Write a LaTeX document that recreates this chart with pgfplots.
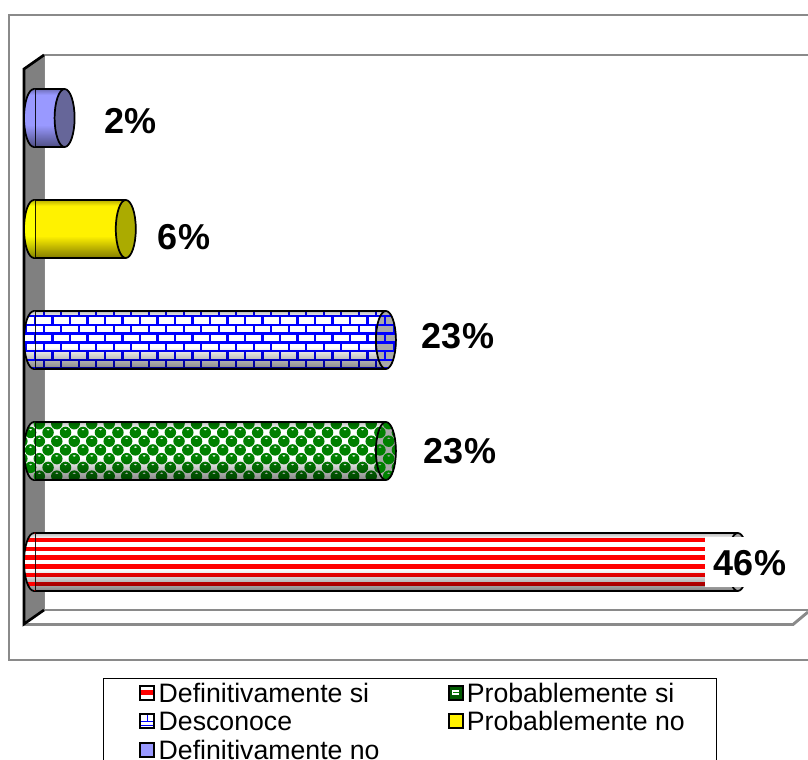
\documentclass[border=0pt]{standalone}
\usepackage{fontspec}
\setmainfont{Liberation Sans}
\usepackage{pgfplots}
\pgfplotsset{compat=1.18}
\usetikzlibrary{patterns,fadings}
\definecolor{framegray}{HTML}{8A8A8A}
\definecolor{wallgray}{HTML}{808080}
\definecolor{gblue}{HTML}{0000FF}
\definecolor{ggreen}{HTML}{008000}
\definecolor{ppl}{HTML}{9999FF}
\definecolor{pplface}{HTML}{666699}
\definecolor{yface}{HTML}{ABAB00}
\definecolor{gface}{HTML}{A8A8A8}

% patterns (1px = 0.75pt)
\pgfdeclarepatternformonly{hstripes}{\pgfqpoint{-1pt}{0pt}}{\pgfqpoint{7.5pt}{6.525pt}}{\pgfqpoint{6.525pt}{6.525pt}}{%
  \pgfpathrectangle{\pgfqpoint{-1pt}{0pt}}{\pgfqpoint{8.5pt}{3.3pt}}\pgfusepath{fill}}
\pgfdeclarepatternformonly{pxbricks}{\pgfqpoint{-1pt}{-1pt}}{\pgfqpoint{14.2pt}{14.1pt}}{\pgfqpoint{13.125pt}{13.05pt}}{%
  \pgfsetlinewidth{1.8pt}%
  \pgfpathmoveto{\pgfqpoint{-1pt}{0pt}}\pgfpathlineto{\pgfqpoint{14.2pt}{0pt}}%
  \pgfpathmoveto{\pgfqpoint{-1pt}{6.525pt}}\pgfpathlineto{\pgfqpoint{14.2pt}{6.525pt}}%
  \pgfpathmoveto{\pgfqpoint{-1pt}{13.05pt}}\pgfpathlineto{\pgfqpoint{14.2pt}{13.05pt}}%
  \pgfpathmoveto{\pgfqpoint{0pt}{0pt}}\pgfpathlineto{\pgfqpoint{0pt}{6.525pt}}%
  \pgfpathmoveto{\pgfqpoint{13.125pt}{0pt}}\pgfpathlineto{\pgfqpoint{13.125pt}{6.525pt}}%
  \pgfpathmoveto{\pgfqpoint{6.5625pt}{6.525pt}}\pgfpathlineto{\pgfqpoint{6.5625pt}{13.05pt}}%
  \pgfusepath{stroke}}
\pgfdeclarepatternformonly{pxspheres}{\pgfqpoint{-2pt}{-2pt}}{\pgfqpoint{15.1pt}{15.1pt}}{\pgfqpoint{13.1pt}{13.1pt}}{%
  \pgfseteorule
  \pgfpathcircle{\pgfqpoint{3.3pt}{3.3pt}}{4.3pt}%
  \pgfpathellipse{\pgfqpoint{3.3pt}{5.4pt}}{\pgfqpoint{1.4pt}{0pt}}{\pgfqpoint{0pt}{0.7pt}}%
  \pgfpathcircle{\pgfqpoint{9.85pt}{9.85pt}}{4.3pt}%
  \pgfpathellipse{\pgfqpoint{9.85pt}{11.95pt}}{\pgfqpoint{1.4pt}{0pt}}{\pgfqpoint{0pt}{0.7pt}}%
  \pgfusepath{fill}}

% a path takes up the stops 25bp (its bottom) to 75bp (its top)
\pgfdeclareverticalshading{barshade}{100bp}{color(0bp)=(pgftransparent!52); color(25bp)=(pgftransparent!52); color(31bp)=(pgftransparent!66); color(37bp)=(pgftransparent!82); color(44bp)=(pgftransparent!100); color(70bp)=(pgftransparent!100); color(75bp)=(pgftransparent!72); color(100bp)=(pgftransparent!72)}
\pgfdeclarefading{barfade}{\pgfuseshading{barshade}}
% the same darkening, opaque, for the rounded left ends
\newcommand{\mkshade}[2]{\pgfdeclareverticalshading{#1}{100bp}{color(0bp)=(#2!52!black); color(25bp)=(#2!52!black); color(31bp)=(#2!66!black); color(37bp)=(#2!82!black); color(44bp)=(#2); color(70bp)=(#2); color(75bp)=(#2!72!black); color(100bp)=(#2!72!black)}}
\mkshade{shwhite}{white}
\mkshade{shyellow}{yellow}
\mkshade{shppl}{ppl}

% end caps: name, face options, base shading of the left end, pattern of the left end
\newcommand{\declcaps}[4]{%
  \pgfdeclareplotmark{capR#1}{%
    \path[#2] (0pt,0pt) ellipse[x radius=7.5pt,y radius=21.75pt];
    \draw[black,line width=1.3pt] (0pt,0pt) ellipse[x radius=7.5pt,y radius=21.75pt];}%
  \pgfdeclareplotmark{capL#1}{%
    \path[shade,shading=#3] (0pt,21.75pt) arc[start angle=90,end angle=270,x radius=7.5pt,y radius=21.75pt] -- (1pt,-21.75pt) -- (1pt,21.75pt) -- cycle;
    \path[#4] (0pt,21.75pt) arc[start angle=90,end angle=270,x radius=7.5pt,y radius=21.75pt] -- (1pt,-21.75pt) -- (1pt,21.75pt) -- cycle;
    \draw[black,line width=1.3pt] (0pt,21.75pt) arc[start angle=90,end angle=270,x radius=7.5pt,y radius=21.75pt];}%
}
\declcaps{red}{fill=gface}{shwhite}{pattern=hstripes,pattern color=red}
\declcaps{green}{fill=gface,postaction={pattern=pxspheres,pattern color=ggreen}}{shwhite}{pattern=pxspheres,pattern color=ggreen}
\declcaps{blue}{fill=gface,postaction={pattern=pxbricks,pattern color=gblue}}{shwhite}{pattern=pxbricks,pattern color=gblue}
\declcaps{yellow}{fill=yface}{shyellow}{}
\declcaps{purple}{fill=pplface}{shppl}{}

\pgfplotsset{
  pxaxis/.style={scale only axis,width=606pt,height=570pt,hide axis,clip=false,
    xmin=0,xmax=808,ymin=0,ymax=760,y dir=reverse},
  oneBar/.style={xbar,bar width=43.5pt,bar shift=0pt},
}

% value, position, cap name, fill options of the bar, legend icon code, legend text
\newcommand{\cyl}[6]{%
  \addplot[oneBar,draw=none,fill=white,forget plot] coordinates {(#1,#2)};
  \addplot[oneBar,draw=none,#4,legend image code/.code={#5}] coordinates {(#1,#2)};
  \addlegendentry{#6}
  \addplot[oneBar,draw=none,fill=black,path fading=barfade,forget plot] coordinates {(#1,#2)};
  \addplot[only marks,mark=capL#3,forget plot] coordinates {(0,#2)};
  \addplot[black,line width=1.3pt,forget plot] coordinates {(0,#2+0.2613) (#1,#2+0.2613)};
  \addplot[black,line width=1.3pt,forget plot] coordinates {(0,#2-0.2613) (#1,#2-0.2613)};
  \addplot[only marks,mark=capR#3,forget plot] coordinates {(#1,#2)};
}
\newcommand{\icon}[1]{\draw[black,line width=1.5pt,fill=white] (0.75pt,-4.6pt) rectangle (11.25pt,5.9pt); #1}

\begin{document}
\begin{tikzpicture}
\useasboundingbox (0,0) rectangle (606pt,570pt);
% frame and walls
\begin{axis}[pxaxis]
  \draw[framegray,line width=2.2pt] (axis cs:808,15) -- (axis cs:9,15) -- (axis cs:9,660) -- (axis cs:808,660);
  \draw[framegray,line width=2.2pt] (axis cs:808,55) -- (axis cs:44,55) -- (axis cs:44,610) -- (axis cs:808,610);
  \draw[framegray,line width=2.2pt] (axis cs:23,624.5) -- (axis cs:793,624.5) -- (axis cs:808,612);
  \path[fill=wallgray] (axis cs:24,69) -- (axis cs:44,55) -- (axis cs:44,610) -- (axis cs:24,624) -- cycle;
  \draw[black,line width=2pt] (axis cs:44,55) -- (axis cs:24,69) -- (axis cs:24,624) -- (axis cs:44,610);
\end{axis}
% bars
\begin{axis}[scale only axis,width=606pt,height=570pt,hide axis,clip=false,
    xmin=-2.2222,xmax=50.5882,ymin=-1.7838,ymax=5.0631,
    legend columns=2,
    legend cell align=left,
    legend style={at={(rel axis cs:0.1722,0.1053)},anchor=north west,draw=none,fill=none,inner sep=0pt,
      font=\fontsize{20}{20}\selectfont,row sep=1.4pt,
      /tikz/every even column/.append style={column sep=48.5pt},
      nodes={inner xsep=2.5pt,inner ysep=2pt}}]
  \cyl{46}{0}{red}{pattern=hstripes,pattern color=red}{\icon{\fill[red] (1.5pt,-1.4pt) rectangle (10.5pt,2.6pt);}}{Definitivamente si}
  \cyl{23}{1}{green}{pattern=pxspheres,pattern color=ggreen}{\icon{\fill[ggreen!70!black] (1.5pt,-3.85pt) rectangle (10.5pt,5.15pt);\fill[white] (3.6pt,-1pt) rectangle (8.4pt,2.8pt);\fill[ggreen] (4.4pt,0.6pt) rectangle (8.4pt,1.3pt);}}{Probablemente si}
  \cyl{23}{2}{blue}{pattern=pxbricks,pattern color=gblue}{\icon{\draw[gblue,line width=1.1pt] (1.5pt,0.6pt) -- (10.5pt,0.6pt) (6pt,0.6pt) -- (6pt,5.15pt) (1.5pt,-2.4pt) -- (10.5pt,-2.4pt);}}{Desconoce}
  \cyl{6}{3}{yellow}{fill=yellow}{\icon{\fill[yellow] (1.5pt,-3.85pt) rectangle (10.5pt,5.15pt);}}{Probablemente no}
  \cyl{2}{4}{purple}{fill=ppl}{\icon{\fill[ppl] (1.5pt,-3.85pt) rectangle (10.5pt,5.15pt);}}{Definitivamente no}
\end{axis}
% labels and legend box
\begin{axis}[pxaxis]
  \draw[black,line width=1.1pt] (axis cs:103.5,770) -- (axis cs:103.5,678.5) -- (axis cs:716.5,678.5) -- (axis cs:716.5,770);
  \path[fill=white] (axis cs:705,537) rectangle (axis cs:795,587);
  \node[font=\bfseries\fontsize{27}{27}\selectfont] at (axis cs:130.5,121) {2\%};
  \node[font=\bfseries\fontsize{27}{27}\selectfont] at (axis cs:184,237) {6\%};
  \node[font=\bfseries\fontsize{27}{27}\selectfont] at (axis cs:458,336) {23\%};
  \node[font=\bfseries\fontsize{27}{27}\selectfont] at (axis cs:460,451) {23\%};
  \node[font=\bfseries\fontsize{27}{27}\selectfont] at (axis cs:750,563) {46\%};
\end{axis}
\end{tikzpicture}
\end{document}
